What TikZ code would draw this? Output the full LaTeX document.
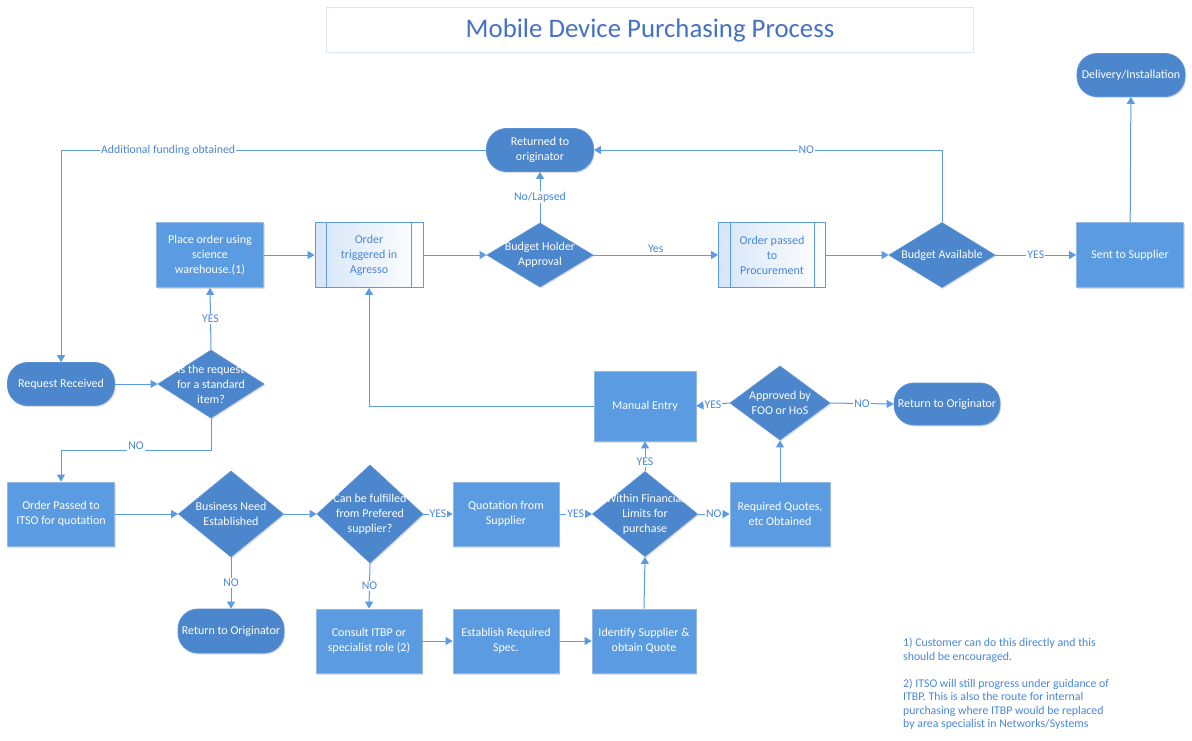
\documentclass[tikz,border=0pt]{standalone}
\usepackage{fontspec}
\setmainfont{Carlito}
\usetikzlibrary{shapes.geometric,arrows.meta,shadows}
\definecolor{rectfill}{RGB}{91,155,225}
\definecolor{rectedge}{RGB}{150,185,225}
\definecolor{diafill}{RGB}{76,134,204}
\definecolor{diaedge}{RGB}{90,145,210}
\definecolor{lineblue}{RGB}{91,155,225}
\definecolor{lblblue}{RGB}{74,134,216}
\definecolor{titleblue}{RGB}{68,114,196}
\definecolor{titleedge}{RGB}{218,228,243}
\definecolor{preleft}{RGB}{214,229,248}
\newcommand\myNodeFont{\fontsize{12}{15}\selectfont}
\newcommand\myLblFont{\fontsize{11.8}{14}\selectfont}
\begin{document}
\begin{tikzpicture}[x=1pt,y=-1pt,
  base/.style={inner sep=1pt, align=center, font=\myNodeFont},
  rbox/.style={base, rectangle, draw=rectedge, line width=0.8pt, fill=rectfill, text=white,
    drop shadow={shadow xshift=1.2pt, shadow yshift=-1.5pt, opacity=0.25}},
  term/.style={base, rectangle, rounded corners=20pt, draw=diaedge, line width=0.8pt, fill=diafill, text=white,
    drop shadow={shadow xshift=1.2pt, shadow yshift=-1.5pt, opacity=0.25}},
  dia/.style={diamond, draw=diaedge, line width=0.8pt, fill=diafill, inner sep=0pt,
    drop shadow={shadow xshift=1.2pt, shadow yshift=-1.5pt, opacity=0.25}},
  dtext/.style={text=white, align=center, font=\myNodeFont, inner sep=0pt},
  pre/.style={base, rectangle, draw=lineblue, line width=0.9pt, left color=preleft, right color=white, text=lblblue},
  arr/.style={draw=lineblue, line width=1pt, -{Triangle[length=7pt,width=8pt]}},
  lbl/.style={fill=white, inner sep=1pt, text=lblblue, font=\myLblFont},
]
\useasboundingbox[fill=white] (0,0) rectangle (1192,740);

% title
\node[draw=titleedge, line width=0.8pt, minimum width=647, minimum height=45, text=titleblue,
  font=\fontsize{26.8}{30}\selectfont] (title) at (650,30) {Mobile Device Purchasing Process};

% top row
\node[term, minimum width=107, minimum height=43] (ret1) at (540,150) {Returned to\\originator};
\node[term, minimum width=108, minimum height=43] (del) at (1131,75) {Delivery/Installation};
\node[rbox, minimum width=107, minimum height=65] (place) at (210,255) {Place order using\\science\\warehouse.(1)};
\node[pre, minimum width=108, minimum height=65] (agr) at (369,255) {Order\\triggered in\\Agresso};
\node[dia, minimum width=106, minimum height=64,
  label={[dtext]center:Budget Holder\\Approval}] (bha) at (540,255) {};
\node[pre, minimum width=107, minimum height=65] (opp) at (772,255) {Order passed\\to\\Procurement};
\node[dia, minimum width=106, minimum height=65,
  label={[dtext]center:Budget Available}] (bav) at (942,255) {};
\node[rbox, minimum width=107, minimum height=65] (sent) at (1130,255) {Sent to Supplier};

\foreach \n in {agr,opp}{
  \draw[lineblue, line width=0.8pt] ([xshift=12pt]\n.north west) -- ([xshift=12pt]\n.south west);
  \draw[lineblue, line width=0.8pt] ([xshift=-12pt]\n.north east) -- ([xshift=-12pt]\n.south east);
}

% middle row
\node[term, minimum width=107, minimum height=43] (req) at (61,384) {Request Received};
\node[dia, minimum width=106, minimum height=68,
  label={[dtext]center:Is the request\\for a standard\\item?}] (isreq) at (211,384) {};
\node[rbox, minimum width=102, minimum height=70] (man) at (645,406) {Manual Entry};
\node[dia, minimum width=100, minimum height=74,
  label={[dtext]center:Approved by\\FOO or HoS}] (appr) at (780,403) {};
\node[term, minimum width=106, minimum height=42] (rto3) at (947,404) {Return to Originator};

% lower row
\node[rbox, minimum width=107, minimum height=64] (itso) at (61,514) {Order Passed to\\ITSO for quotation};
\node[dia, minimum width=105, minimum height=86,
  label={[dtext]center:Business Need\\Established}] (bne) at (231,514) {};
\node[dia, minimum width=106, minimum height=98,
  label={[dtext]center:Can be fulfilled\\from Prefered\\supplier?}] (cbf) at (370,514) {};
\node[rbox, minimum width=106, minimum height=64] (quo) at (506,514) {Quotation from\\Supplier};
\node[dia, minimum width=105, minimum height=85,
  label={[dtext]center:Within Financial\\Limits for\\purchase}] (wfl) at (645,514) {};
\node[rbox, minimum width=100, minimum height=64] (rq) at (780,514) {Required Quotes,\\etc Obtained};

% bottom row
\node[term, minimum width=106, minimum height=44] (rto2) at (231,631) {Return to Originator};
\node[rbox, minimum width=106, minimum height=64] (cons) at (369,641) {Consult ITBP or\\specialist role (2)};
\node[rbox, minimum width=106, minimum height=64] (est) at (506,641) {Establish Required\\Spec.};
\node[rbox, minimum width=104, minimum height=64] (ident) at (644,641) {Identify Supplier \&\\obtain Quote};

% notes
\node[anchor=north west, align=left, inner sep=0pt, text=lblblue, font=\fontsize{11.8}{13.5}\selectfont]
  (notes) at (903,638) {1) Customer can do this directly and this\\should be encouraged.\\[13.5pt]
  2) ITSO will still progress under guidance of\\ITBP. This is also the route for internal\\
  purchasing where ITBP would be replaced\\by area specialist in Networks/Systems};

% connectors
\coordinate (c1) at (req.north |- ret1.west);
\draw[arr] (ret1.west) -- node[lbl, pos=0.748]{Additional funding obtained} (c1) -- (req.north);
\draw[arr] (bha.north) -- node[lbl]{No/Lapsed} (ret1.south);
\coordinate (c2) at (bav.north |- ret1.east);
\draw[arr] (bav.north) -- (c2) -- node[lbl, pos=0.39]{NO} (ret1.east);
\draw[arr] (place) -- (agr);
\draw[arr] (agr) -- (bha);
\draw[arr] (bha) -- node[lbl, yshift=6pt]{Yes} (opp);
\draw[arr] (opp) -- (bav);
\draw[arr] (bav) -- node[lbl]{YES} (sent);
\draw[arr] (sent) -- (del);
\draw[arr] (req) -- (isreq);
\draw[arr] (isreq.north) -- node[lbl]{YES} (place.south);
\coordinate (c3) at (211,450);
\coordinate (c4) at (61,450);
\draw[arr] (isreq.south) -- (c3) -- node[lbl, yshift=4pt]{NO} (c4) -- (itso.north);
\coordinate (c5) at (agr.south |- man.west);
\draw[arr] (man.west) -- (c5) -- (agr.south);
\draw[arr] (itso) -- (bne);
\draw[arr] (bne) -- (cbf);
\draw[arr] (bne.south) -- node[lbl]{NO} (rto2.north);
\draw[arr] (cbf) -- node[lbl]{YES} (quo);
\draw[arr] (cbf.south) -- node[lbl]{NO} (cons.north);
\draw[arr] (quo) -- node[lbl]{YES} (wfl);
\draw[arr] (wfl) -- node[lbl]{NO} (rq);
\draw[arr] (wfl.north) -- node[lbl, pos=0.3]{YES} (man.south);
\draw[arr] (rq.north) -- (appr.south);
\draw[arr] (appr.west) -- node[lbl]{YES} (man.east);
\draw[arr] (appr.east) -- node[lbl]{NO} (rto3.west);
\draw[arr] (cons) -- (est);
\draw[arr] (est) -- (ident);
\draw[arr] (ident.north) -- (wfl.south);
\end{tikzpicture}
\end{document}
